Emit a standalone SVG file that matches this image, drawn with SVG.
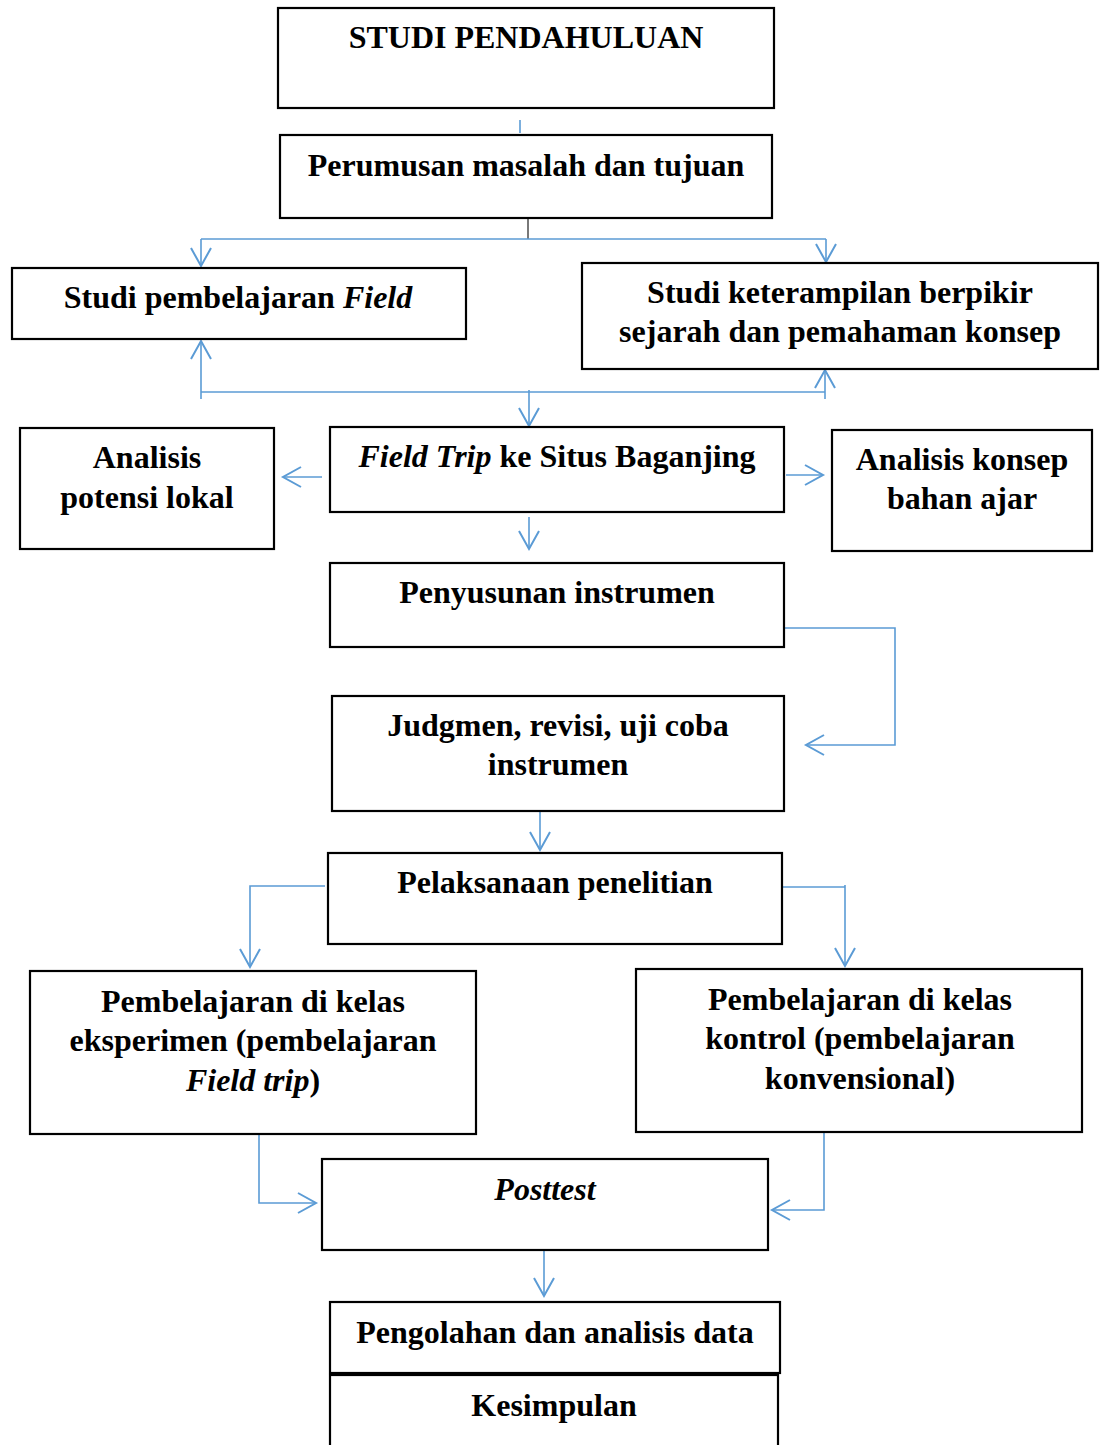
<svg xmlns="http://www.w3.org/2000/svg" width="1104" height="1445" viewBox="0 0 1104 1445">
<style>
.box{fill:#fff;stroke:#000;stroke-width:2.2}
.t{font-family:"Liberation Serif","Times New Roman",serif;font-weight:bold;font-size:32px;text-anchor:middle;fill:#000}
.i{font-style:italic}
.c{fill:none;stroke:#5B9BD5;stroke-width:1.6}
</style>
<defs>
<marker id="ah" markerUnits="userSpaceOnUse" markerWidth="24" markerHeight="24" viewBox="0 0 24 24" refX="20" refY="12" orient="auto">
<path d="M2,2 L20,12 L2,22" fill="none" stroke="#5B9BD5" stroke-width="2"/>
</marker>
</defs>
<rect width="1104" height="1445" fill="#fff"/>
<g id="connectors">
<line class="c" x1="520" y1="120" x2="520" y2="133"/>
<line x1="528" y1="219" x2="528" y2="239" stroke="#404040" stroke-width="1.4"/>
<line class="c" x1="201" y1="239" x2="826" y2="239"/>
<line class="c" x1="201" y1="239" x2="201" y2="266" marker-end="url(#ah)"/>
<line class="c" x1="826" y1="239" x2="826" y2="262" marker-end="url(#ah)"/>
<line class="c" x1="201" y1="392" x2="825" y2="392"/>
<line class="c" x1="201" y1="399" x2="201" y2="341" marker-end="url(#ah)"/>
<line class="c" x1="825" y1="399" x2="825" y2="370" marker-end="url(#ah)"/>
<line class="c" x1="529" y1="390" x2="529" y2="426" marker-end="url(#ah)"/>
<line class="c" x1="322" y1="477" x2="283" y2="477" marker-end="url(#ah)"/>
<line class="c" x1="786" y1="475" x2="823" y2="475" marker-end="url(#ah)"/>
<line class="c" x1="529" y1="517" x2="529" y2="549" marker-end="url(#ah)"/>
<polyline class="c" points="785,628 895,628 895,745 806,745" marker-end="url(#ah)"/>
<line class="c" x1="540" y1="812" x2="540" y2="850" marker-end="url(#ah)"/>
<polyline class="c" points="325,886 250,886 250,967" marker-end="url(#ah)"/>
<polyline class="c" points="783,887 845,887"/>
<line class="c" x1="845" y1="885" x2="845" y2="966" marker-end="url(#ah)"/>
<polyline class="c" points="259,1135 259,1203 316,1203" marker-end="url(#ah)"/>
<polyline class="c" points="824,1133 824,1210 772,1210" marker-end="url(#ah)"/>
<line class="c" x1="544" y1="1251" x2="544" y2="1296" marker-end="url(#ah)"/>
</g>
<g id="n1"><rect class="box" x="278" y="8" width="496" height="100"/><text class="t" x="526" y="48">STUDI PENDAHULUAN</text></g>
<g id="n2"><rect class="box" x="280" y="135" width="492" height="83"/><text class="t" x="526" y="176">Perumusan masalah dan tujuan</text></g>
<g id="n3"><rect class="box" x="12" y="268" width="454" height="71"/><text class="t" x="238" y="308">Studi pembelajaran <tspan class="i">Field</tspan></text></g>
<g id="n4"><rect class="box" x="582" y="263" width="516" height="106"/><text class="t" x="840" y="303">Studi keterampilan berpikir</text><text class="t" x="840" y="342">sejarah dan pemahaman konsep</text></g>
<g id="n5"><rect class="box" x="20" y="428" width="254" height="121"/><text class="t" x="147" y="468">Analisis</text><text class="t" x="147" y="508">potensi lokal</text></g>
<g id="n6"><rect class="box" x="330" y="427" width="454" height="85"/><text class="t" x="557" y="467"><tspan class="i">Field Trip</tspan> ke Situs Baganjing</text></g>
<g id="n7"><rect class="box" x="832" y="430" width="260" height="121"/><text class="t" x="962" y="470">Analisis konsep</text><text class="t" x="962" y="509">bahan ajar</text></g>
<g id="n8"><rect class="box" x="330" y="563" width="454" height="84"/><text class="t" x="557" y="603">Penyusunan instrumen</text></g>
<g id="n9"><rect class="box" x="332" y="696" width="452" height="115"/><text class="t" x="558" y="736">Judgmen, revisi, uji coba</text><text class="t" x="558" y="775">instrumen</text></g>
<g id="n10"><rect class="box" x="328" y="853" width="454" height="91"/><text class="t" x="555" y="893">Pelaksanaan penelitian</text></g>
<g id="n11"><rect class="box" x="30" y="971" width="446" height="163"/><text class="t" x="253" y="1012">Pembelajaran di kelas</text><text class="t" x="253" y="1051">eksperimen (pembelajaran</text><text class="t" x="253" y="1091"><tspan class="i">Field trip</tspan>)</text></g>
<g id="n12"><rect class="box" x="636" y="969" width="446" height="163"/><text class="t" x="860" y="1010">Pembelajaran di kelas</text><text class="t" x="860" y="1049">kontrol (pembelajaran</text><text class="t" x="860" y="1089">konvensional)</text></g>
<g id="n13"><rect class="box" x="322" y="1159" width="446" height="91"/><text class="t i" x="545" y="1200">Posttest</text></g>
<g id="n14"><rect class="box" x="330" y="1302" width="450" height="71"/><text class="t" x="555" y="1343">Pengolahan dan analisis data</text></g>
<g id="n15"><rect class="box" x="330" y="1375" width="448" height="80"/><text class="t" x="554" y="1416">Kesimpulan</text></g>
</svg>
